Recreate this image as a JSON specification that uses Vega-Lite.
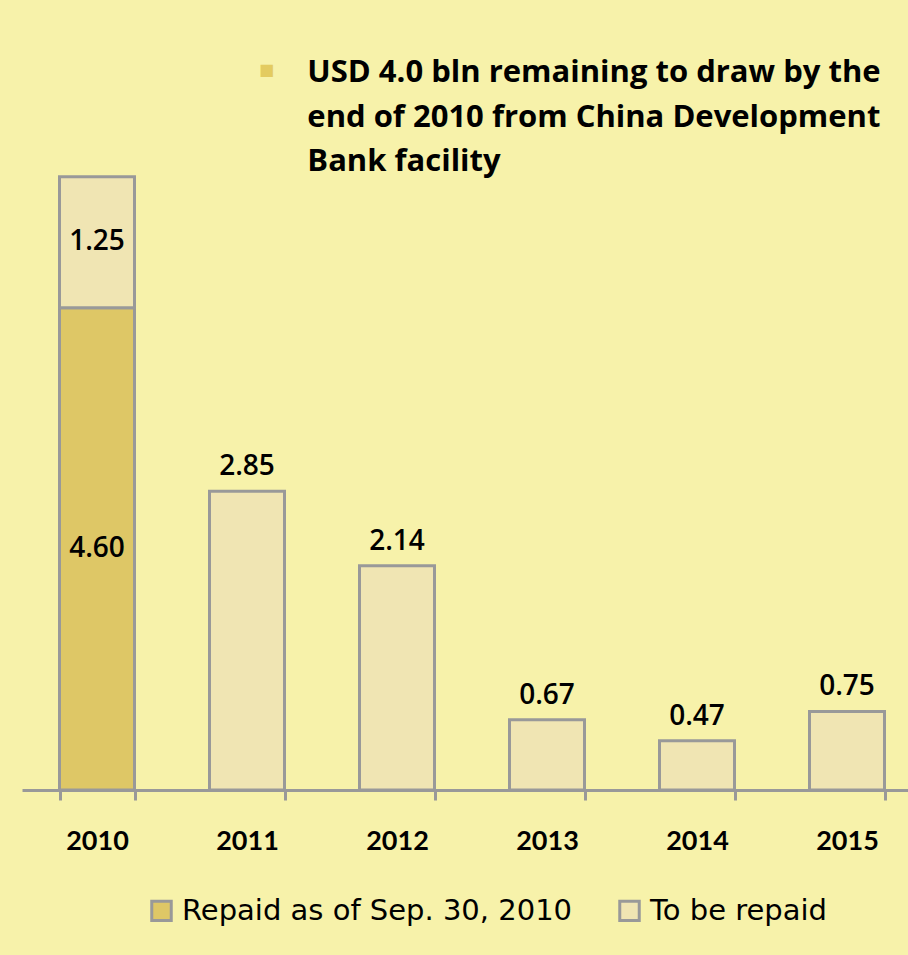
{
  "$schema": "https://vega.github.io/schema/vega-lite/v6.json",
  "autosize": {"type": "none"},
  "width": 886,
  "height": 629,
  "padding": {"left": 22, "top": 161, "right": 0, "bottom": 165},
  "background": "#F7F2AA",
  "config": {"view": {"stroke": null}},
  "title": {
    "text": "■",
    "subtitle": [
      "\u200b\u00a0\u00a0\u00a0\u00a0\u00a0\u00a0USD 4.0 bln remaining to draw by the",
      "\u200b\u00a0\u00a0\u00a0\u00a0\u00a0\u00a0end of 2010 from China Development",
      "\u200b\u00a0\u00a0\u00a0\u00a0\u00a0\u00a0Bank facility"
    ],
    "anchor": "start",
    "frame": "group",
    "orient": "top",
    "dx": 237,
    "dy": 25,
    "color": "#E3CB60",
    "font": "DejaVu Sans",
    "fontSize": 16,
    "subtitleFont": "Open Sans",
    "subtitleFontSize": 31,
    "subtitleFontWeight": "bold",
    "subtitleColor": "#000000",
    "subtitleLineHeight": 44.5,
    "subtitlePadding": -20
  },
  "data": {
    "values": [
      {"year": "2010", "status": "Repaid as of Sep. 30, 2010", "value": 4.60},
      {"year": "2010", "status": "To be repaid", "value": 1.25},
      {"year": "2011", "status": "To be repaid", "value": 2.85},
      {"year": "2012", "status": "To be repaid", "value": 2.14},
      {"year": "2013", "status": "To be repaid", "value": 0.67},
      {"year": "2014", "status": "To be repaid", "value": 0.47},
      {"year": "2015", "status": "To be repaid", "value": 0.75}
    ]
  },
  "encoding": {
    "x": {
      "field": "year",
      "type": "nominal",
      "scale": {"range": [0, 900], "paddingInner": 0.5, "paddingOuter": 0.25},
      "axis": {
        "title": null,
        "labelAngle": 0,
        "tickBand": "extent",
        "domainColor": "#999999",
        "domainWidth": 3,
        "tickColor": "#999999",
        "tickWidth": 3,
        "tickSize": 10,
        "labelFont": "Lato",
        "labelFontSize": 27,
        "labelFontWeight": "bold",
        "labelColor": "#000000",
        "labelPadding": 28
      }
    }
  },
  "layer": [
    {
      "mark": {"type": "bar", "stroke": "#999999", "strokeWidth": 3},
      "encoding": {
        "y": {"field": "value", "type": "quantitative", "stack": "zero", "scale": {"domain": [0, 6]}, "axis": null},
        "color": {
          "field": "status",
          "type": "nominal",
          "scale": {"domain": ["Repaid as of Sep. 30, 2010", "To be repaid"], "range": ["#DEC766", "#F0E5B3"]},
          "legend": {
            "title": null,
            "orient": "none",
            "direction": "horizontal",
            "legendX": 125,
            "legendY": 735,
            "symbolType": "square",
            "symbolSize": 380,
            "symbolStrokeColor": "#999999",
            "symbolStrokeWidth": 3,
            "symbolOpacity": 1,
            "labelFont": "DejaVu Sans",
            "labelFontSize": 29,
            "labelColor": "#000000",
            "labelLimit": 0,
            "labelOffset": 6,
            "columnPadding": 40
          }
        },
        "order": {"field": "status", "sort": "ascending"}
      }
    },
    {
      "transform": [
        {"filter": "datum.year == '2010'"},
        {"stack": "value", "groupby": ["year"], "sort": [{"field": "status", "order": "ascending"}], "as": ["v0", "v1"]},
        {"calculate": "(datum.v0 + datum.v1) / 2", "as": "mid"}
      ],
      "mark": {"type": "text", "font": "Open Sans", "fontSize": 28, "fontWeight": 600, "color": "#000000", "baseline": "middle"},
      "encoding": {
        "y": {"field": "mid", "type": "quantitative"},
        "text": {"field": "value", "type": "quantitative", "format": ".2f"}
      }
    },
    {
      "transform": [{"filter": "datum.year != '2010'"}],
      "mark": {"type": "text", "font": "Open Sans", "fontSize": 28, "fontWeight": 600, "color": "#000000", "baseline": "alphabetic", "dy": -16},
      "encoding": {
        "y": {"field": "value", "type": "quantitative"},
        "text": {"field": "value", "type": "quantitative", "format": ".2f"}
      }
    }
  ]
}
